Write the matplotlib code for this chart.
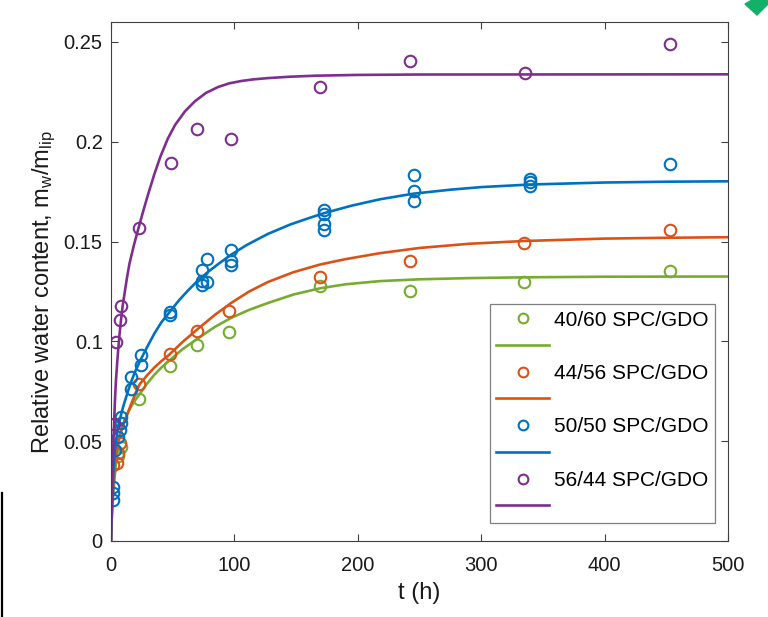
import numpy as np
import matplotlib
matplotlib.use("Agg")
import matplotlib.pyplot as plt
from matplotlib.lines import Line2D
from matplotlib.patches import Polygon

plt.rcParams['font.family'] = ['Liberation Sans', 'DejaVu Sans']
plt.rcParams['mathtext.default'] = 'regular'

labels = ["40/60 SPC/GDO", "44/56 SPC/GDO", "50/50 SPC/GDO", "56/44 SPC/GDO"]
colors = ["#77AC30", "#D95319", "#0072BD", "#7E2F8E"]

# measured points (t in h, relative water content)
t_green = [6, 8, 23, 48, 70, 96, 169, 242, 335, 453]
w_green = [0.0425, 0.047, 0.071, 0.0875, 0.098, 0.1047, 0.1275, 0.125, 0.130, 0.1355]

t_orange = [1.5, 4.5, 6, 7.5, 23, 48, 70, 96, 169, 242, 335, 453]
w_orange = [0.038, 0.039, 0.044, 0.049, 0.0788, 0.0935, 0.1052, 0.1152, 0.1322, 0.1405, 0.1493, 0.1558]

t_blue = [1.6, 1.6, 1.6, 3, 5.7, 7, 7.8, 7.8, 16.5, 16.5, 24.6, 24.6, 48, 48,
          74, 74, 74, 77.8, 77.8, 97, 97, 97, 173, 173, 173, 173,
          245.5, 245.5, 245.5, 339.5, 339.5, 339.5, 453]
w_blue = [0.0205, 0.0238, 0.027, 0.0455, 0.052, 0.0555, 0.059, 0.0622, 0.0822, 0.0763, 0.093, 0.088, 0.1147, 0.113,
          0.1358, 0.1305, 0.128, 0.1413, 0.1297, 0.1458, 0.1405, 0.1385, 0.166, 0.164, 0.159, 0.156,
          0.1833, 0.1752, 0.1702, 0.1813, 0.1797, 0.1777, 0.1887]

t_purple = [2.2, 4.3, 7, 8.4, 22.4, 48.4, 70, 97, 169.4, 242.3, 335.5, 453]
w_purple = [0.0588, 0.0997, 0.1105, 0.1177, 0.1567, 0.1893, 0.2063, 0.2013, 0.2275, 0.2405, 0.2345, 0.249]

# fitted curves
ft_green = [0, 0.5, 1, 2, 3, 4.3, 5.7, 8, 11.1, 13.5, 16, 19.5, 23.2, 29, 35, 41, 47.5, 58, 70.5, 84,
            97.5, 112, 127, 148, 169.4, 190, 218, 250, 290, 335, 400, 500]
fw_green = [0, 0.009, 0.015, 0.025, 0.032, 0.041, 0.0488, 0.055, 0.0605, 0.064, 0.067, 0.0705, 0.0735,
            0.0786, 0.0832, 0.087, 0.0905, 0.0961, 0.1015, 0.1072, 0.1118, 0.1158, 0.1192, 0.1235, 0.1266,
            0.1286, 0.1302, 0.1311, 0.1317, 0.1321, 0.1324, 0.1325]

ft_orange = [0, 0.5, 1, 2, 3, 4.5, 6, 8.5, 11, 13.5, 16, 19.5, 23.2, 29, 35, 41, 47.5, 58, 70.5, 84,
             97.5, 112, 127, 148, 169.4, 190, 218, 250, 290, 335, 400, 450, 500]
fw_orange = [0, 0.010, 0.018, 0.030, 0.038, 0.045, 0.050, 0.0555, 0.060, 0.064, 0.068, 0.0735, 0.0785,
             0.0828, 0.0868, 0.0902, 0.0935, 0.0997, 0.1063, 0.1132, 0.1193, 0.125, 0.1297, 0.1347, 0.1385,
             0.1412, 0.1442, 0.1468, 0.1489, 0.1503, 0.1515, 0.1519, 0.1522]

ft_blue = [0, 0.5, 1, 2, 3, 4, 5, 6.5, 8.4, 10, 12, 14, 16.5, 20, 24.6, 30, 35.4, 41, 47.5, 55, 62.4, 70,
           78, 87, 97.5, 110, 127, 145, 160, 173, 195, 218, 245, 275, 300, 340, 400, 450, 500]
fw_blue = [0, 0.012, 0.022, 0.036, 0.045, 0.050, 0.054, 0.059, 0.0638, 0.0675, 0.0715, 0.0755, 0.080,
           0.0855, 0.0915, 0.098, 0.1042, 0.1097, 0.1147, 0.1205, 0.1255, 0.1302, 0.1345, 0.1388, 0.1435,
           0.1483, 0.1538, 0.1585, 0.1617, 0.1643, 0.168, 0.1712, 0.174, 0.176, 0.1773, 0.1786, 0.1796,
           0.180, 0.1802]

ft_purple = [0, 0.5, 1, 1.7, 2.5, 3.2, 4, 5, 6, 7, 8, 9.5, 11, 13, 15, 18.5, 22.4, 26, 30, 35, 40, 46,
             52, 60, 68, 77, 87, 96, 106, 116, 127, 145, 165, 200, 250, 500]
fw_purple = [0, 0.015, 0.028, 0.044, 0.059, 0.070, 0.080, 0.089, 0.097, 0.104, 0.110, 0.118, 0.124, 0.132,
             0.139, 0.148, 0.157, 0.165, 0.1735, 0.1835, 0.1925, 0.2015, 0.2085, 0.2153, 0.2203, 0.2245,
             0.2275, 0.2293, 0.2305, 0.2313, 0.2319, 0.2326, 0.2331, 0.2335, 0.2337, 0.2338]

points = [(t_green, w_green), (t_orange, w_orange), (t_blue, w_blue), (t_purple, w_purple)]
fits = [(ft_green, fw_green), (ft_orange, fw_orange), (ft_blue, fw_blue), (ft_purple, fw_purple)]

fig = plt.figure(figsize=(7.68, 6.17), dpi=100)
ax = fig.add_axes([0.1445, 0.1232, 0.8035, 0.8411])

handles = []
leg_labels = []
for (t, w), (ft, fw), c, lab in zip(points, fits, colors, labels):
    ax.plot(ft, fw, '-', color=c, lw=1.9, solid_joinstyle='round')
    ax.plot(t, w, 'o', mfc='none', mec=c, mew=1.5, ms=8.3)
    handles.append(Line2D([], [], ls='none', marker='o', mfc='none', mec=c, mew=1.5, ms=7))
    leg_labels.append(lab)
    handles.append(Line2D([], [], ls='-', color=c, lw=1.9))
    leg_labels.append('')

ax.set_xlim(0, 500)
ax.set_ylim(0, 0.26)
ax.set_xticks([0, 100, 200, 300, 400, 500])
ax.set_yticks([0, 0.05, 0.1, 0.15, 0.2, 0.25])
ax.set_yticklabels(['0', '0.05', '0.1', '0.15', '0.2', '0.25'])

axcol = '#404040'
for s in ax.spines.values():
    s.set_color(axcol)
    s.set_linewidth(0.8)
ax.tick_params(direction='in', top=True, right=True, length=5, width=0.8, color=axcol,
               labelsize=14.5, labelcolor='#1a1a1a')
ax.tick_params(axis='x', pad=11)
ax.tick_params(axis='y', pad=6)

ax.set_xlabel('t (h)', fontsize=17, color='#1a1a1a', labelpad=5)
ax.set_ylabel('Relative water content, m$_\\mathregular{w}$/m$_\\mathregular{lip}$', fontsize=17,
              color='#1a1a1a')
ax.yaxis.set_label_coords(-0.086, 0.479)

leg = ax.legend(handles, leg_labels, loc='lower right', bbox_to_anchor=(0.979, 0.035),
                fontsize=15, handlelength=2.55, handletextpad=0.25, labelspacing=0.37,
                borderpad=0.3, borderaxespad=0, fancybox=False, framealpha=1)
leg.get_frame().set_edgecolor('#7f7f7f')
leg.get_frame().set_linewidth(0.9)

# stray marks at the image edges
fig.add_artist(Line2D([1.5 / 768, 1.5 / 768], [0, 1 - 493 / 617], color='black', lw=1.6,
                      transform=fig.transFigure))
fig.add_artist(Polygon([[745 / 768, 1 - 4 / 617], [757 / 768, 1 - 15 / 617], [768 / 768, 1 - 4 / 617],
                        [768 / 768, 1.0], [752 / 768, 1.0]], closed=True, color='#14b069',
                       transform=fig.transFigure))

fig.savefig('out.png', dpi=100)
